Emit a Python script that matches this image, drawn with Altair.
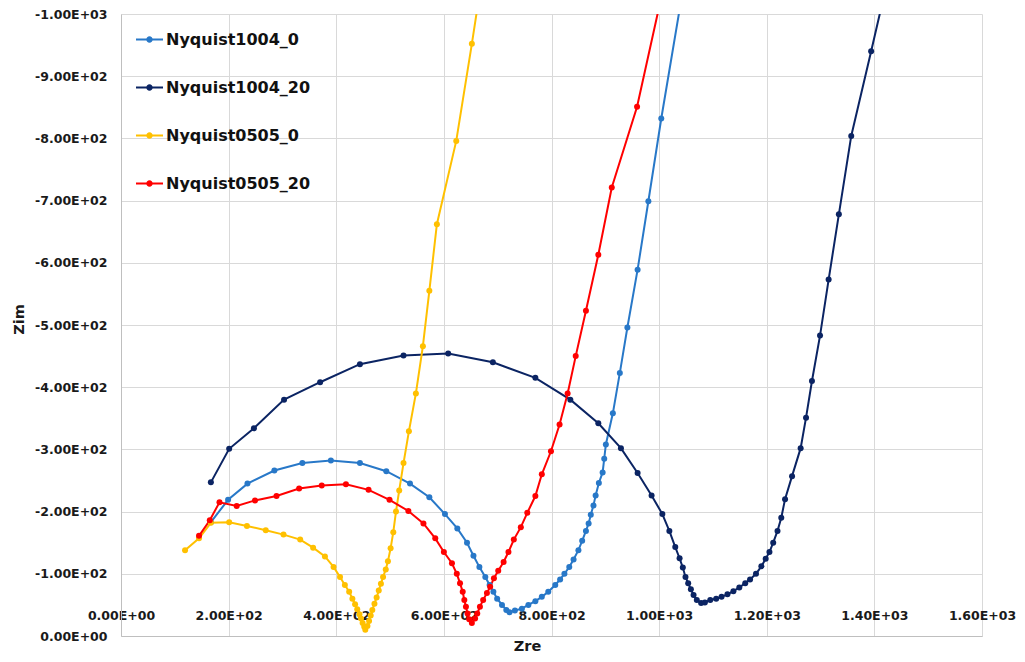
import altair as alt
import pandas as pd

series_names = ["Nyquist1004_0", "Nyquist1004_20", "Nyquist0505_0", "Nyquist0505_20"]
series_colors = ["#2878C8", "#0B2463", "#FFC000", "#FF0000"]

x_ticks = [0, 200, 400, 600, 800, 1000, 1200, 1400, 1600]
y_ticks = [0, -100, -200, -300, -400, -500, -600, -700, -800, -900, -1000]

# Nyquist1004_0
zre_1004_0 = [167, 199, 235, 285, 337, 390, 444, 493, 537, 573, 602, 625, 643, 655, 666, 677, 685, 692,
              699, 708, 716, 722, 732, 745, 757, 770, 782, 794, 807, 816, 824, 833, 841, 850, 857, 864,
              869, 873, 878, 882, 888, 895, 898, 901, 914, 927, 941, 960, 980, 1004, 1058]
zim_1004_0 = [-183, -219, -245, -266, -278, -282, -278, -265, -245, -223, -196, -173, -150, -129, -111, -95,
              -82, -71, -60, -50, -42, -38, -41, -44, -50, -56, -63, -71, -82, -91, -100, -111, -123, -138,
              -153, -169, -181, -195, -210, -226, -246, -263, -285, -308, -358, -423, -496, -589, -699, -832, -1110]

# Nyquist1004_20
zre_1004_20 = [167, 201, 247, 303, 370, 444, 525, 608, 691, 770, 835, 887, 929, 960, 986, 1006, 1019, 1030,
               1038, 1044, 1049, 1054, 1059, 1064, 1070, 1078, 1085, 1095, 1106, 1116, 1127, 1138, 1149, 1160,
               1169, 1180, 1190, 1198, 1205, 1212, 1220, 1227, 1234, 1247, 1263, 1273, 1284, 1299, 1315, 1334,
               1357, 1394, 1430]
zim_1004_20 = [-247, -301, -334, -380, -408, -437, -451, -454, -440, -415, -380, -342, -302, -262, -226, -196,
               -169, -143, -125, -110, -95, -85, -75, -66, -58, -53, -54, -58, -60, -63, -67, -72, -78, -85,
               -91, -100, -112, -124, -135, -150, -169, -190, -220, -257, -302, -351, -410, -483, -573, -678,
               -804, -940, -1075]

# Nyquist0505_0
zre_0505_0 = [119, 145, 167, 201, 234, 269, 302, 333, 357, 379, 395, 407, 416, 424, 430, 435, 439, 443, 446,
              449, 452, 454, 458, 461, 464, 467, 471, 475, 479, 483, 487, 492, 496, 501, 506, 511, 517, 525,
              535, 548, 561, 573, 587, 623, 652, 680]
zim_0505_0 = [-138, -157, -182, -183, -177, -170, -163, -155, -142, -128, -111, -95, -82, -71, -60, -51, -43,
              -35, -28, -21, -15, -10, -16, -24, -33, -42, -52, -62, -73, -84, -95, -107, -120, -141, -167,
              -200, -234, -278, -329, -390, -466, -555, -662, -796, -952, -1110]

# Nyquist0505_20
zre_0505_20 = [145, 165, 183, 215, 249, 289, 331, 373, 418, 460, 499, 534, 562, 584, 600, 615, 624, 630, 635,
               638, 641, 644, 647, 652, 658, 662, 667, 673, 680, 686, 693, 701, 711, 720, 730, 743, 755, 770,
               782, 799, 815, 830, 845, 864, 887, 912, 959, 1015]
zim_0505_20 = [-161, -186, -215, -209, -218, -225, -237, -242, -244, -235, -219, -201, -181, -157, -135, -117,
               -100, -85, -71, -58, -47, -36, -27, -21, -28, -36, -47, -58, -69, -79, -93, -105, -119, -135,
               -155, -175, -198, -225, -260, -297, -340, -390, -450, -523, -613, -721, -851, -1070]

rows = []
for name, xs, ys in [
    ("Nyquist1004_0", zre_1004_0, zim_1004_0),
    ("Nyquist1004_20", zre_1004_20, zim_1004_20),
    ("Nyquist0505_0", zre_0505_0, zim_0505_0),
    ("Nyquist0505_20", zre_0505_20, zim_0505_20),
]:
    for i, (x, y) in enumerate(zip(xs, ys)):
        rows.append({"series": name, "idx": i, "Zre": x, "Zim": y})
df = pd.DataFrame(rows)

label_expr = "(datum.value < 0 ? '-' : '') + replace(format(abs(datum.value), '.2e'), 'e+', 'E+0')"

x_enc = alt.X(
    "Zre:Q",
    scale=alt.Scale(domain=[0, 1600], nice=False, zero=False),
    axis=alt.Axis(
        values=x_ticks, labelExpr=label_expr, title="Zre", ticks=False, tickSize=0,
        labelPadding=-27, labelFlush=False, titleX=406, titleY=10, titleBaseline="middle",
        titleAlign="center",
    ),
)
y_enc = alt.Y(
    "Zim:Q",
    scale=alt.Scale(domain=[0, -1000], nice=False, zero=False),
    axis=alt.Axis(
        values=y_ticks, labelExpr=label_expr, title="Zim", ticks=False, tickSize=0,
        labelPadding=14, labelFlush=False, titleX=-102, titleY=305, titleBaseline="middle",
        titleAlign="center", titleAngle=270,
    ),
)
color_scale = alt.Scale(domain=series_names, range=series_colors)

legend_path = ("M-1,-0.075H-0.2V0.075H-1Z M0.2,-0.075H1V0.075H0.2Z "
               "M-0.24,0A0.24,0.24 0 1,1 0.24,0A0.24,0.24 0 1,1 -0.24,0Z")

legend = alt.Legend(
    title=None, orient="none", legendX=15, legendY=12, symbolType=legend_path,
    symbolSize=729, symbolStrokeWidth=0, symbolOpacity=1, rowPadding=26, padding=0,
    labelFont="DejaVu Sans", labelFontWeight="bold", labelFontSize=16, labelColor="#111111",
    labelOffset=3, labelLimit=400,
)
color_enc = alt.Color("series:N", scale=color_scale, legend=legend)

lines = alt.Chart(df).mark_line(strokeWidth=2, clip=True).encode(
    x=x_enc, y=y_enc, color=color_enc,
    order=alt.Order("idx:Q"),
    detail="series:N",
)
points = alt.Chart(df).mark_point(filled=True, size=36, opacity=1, clip=True).encode(
    x=x_enc, y=y_enc, color=color_enc,
)

chart = alt.layer(lines, points).resolve_legend(color="shared").properties(
    width=861, height=622,
    autosize=alt.AutoSizeParams(type="none"),
    padding={"left": 113, "top": 6, "right": 35, "bottom": 18},
).configure_view(stroke=None).configure_axis(
    gridColor="#D9D9D9", gridWidth=1, domainColor="#BFBFBF", domainWidth=1,
    labelFont="DejaVu Sans", labelFontWeight="bold", labelFontSize=12.5, labelColor="#1A1A1A",
    titleFont="DejaVu Sans", titleFontWeight="bold", titleFontSize=14.5, titleColor="#1A1A1A",
)

chart.save("out.html", embed_options={"renderer": "svg", "actions": False})
